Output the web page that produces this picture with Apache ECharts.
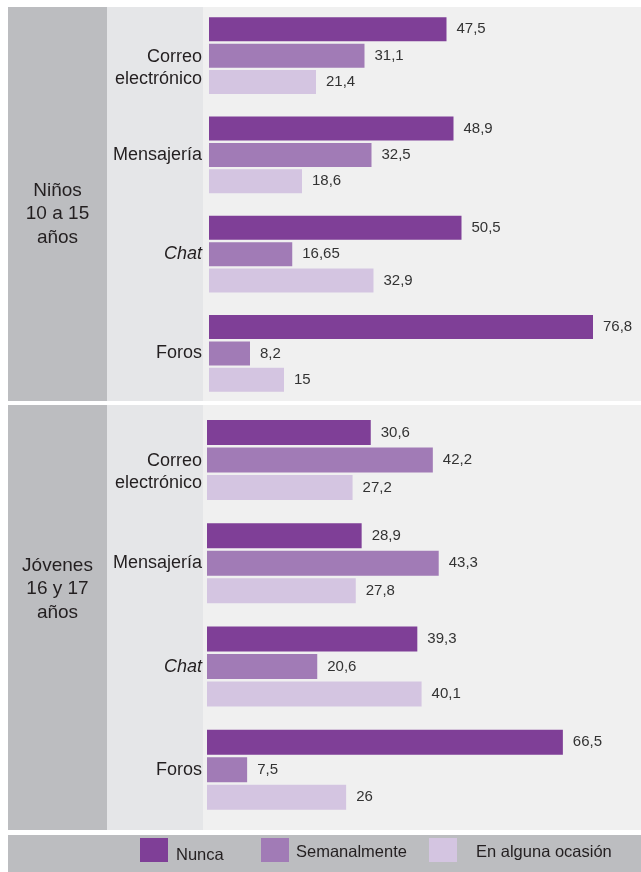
<!DOCTYPE html>
<html>
<head>
<meta charset="utf-8">
<script src="https://cdn.jsdelivr.net/npm/echarts@6/dist/echarts.min.js"></script>
<style>
  html, body { margin: 0; padding: 0; background: #ffffff; }
  #chart { width: 641px; height: 872px; }
</style>
</head>
<body>
<div id="chart"></div>
<script>
// Uso de servicios de comunicación por grupo de edad (%)
const categories = ['Correo\nelectrónico', 'Mensajería', 'Chat', 'Foros'];
const seriesNames = ['Nunca', 'Semanalmente', 'En alguna ocasión'];

const ninosNunca = [47.5, 48.9, 50.5, 76.8];
const ninosSemanal = [31.1, 32.5, 16.65, 8.2];
const ninosAlguna = [21.4, 18.6, 32.9, 15];

const jovenesNunca = [30.6, 28.9, 39.3, 66.5];
const jovenesSemanal = [42.2, 43.3, 20.6, 7.5];
const jovenesAlguna = [27.2, 27.8, 40.1, 26];

const groupLabels = ['Niños\n10 a 15\naños', 'Jóvenes\n16 y 17\naños'];

const colors = ['#7f3f97', '#a17bb6', '#d4c5e1'];
const FONT = '"Liberation Sans", Arial, Helvetica, sans-serif';
const TEXT_DARK = '#231f20';

const chart = echarts.init(document.getElementById('chart'), null, { renderer: 'canvas' });

function fmt(v) { return String(v).replace('.', ','); }

function categoryData() {
  return categories.map(function (c) {
    if (c.indexOf('\n') >= 0) {
      return { value: c, textStyle: { padding: [24, 0, 0, 0] } };
    }
    return c;
  });
}

function yAxisFor(gridIndex, margin) {
  return {
    type: 'category',
    gridIndex: gridIndex,
    inverse: true,
    data: categoryData(),
    axisLine: { show: false },
    axisTick: { show: false },
    splitLine: { show: false },
    axisLabel: {
      margin: margin,
      fontSize: 18,
      lineHeight: 22,
      color: TEXT_DARK,
      fontFamily: FONT,
      formatter: function (v) { return v === 'Chat' ? '{i|Chat}' : v; },
      rich: {
        i: { fontStyle: 'italic', fontSize: 18, color: TEXT_DARK, fontFamily: FONT }
      }
    }
  };
}

function xAxisFor(gridIndex, max) {
  return {
    type: 'value',
    gridIndex: gridIndex,
    min: 0,
    max: max,
    show: false,
    splitLine: { show: false }
  };
}

function barSeries(name, data, idx, axisIndex, width) {
  return {
    name: name,
    type: 'bar',
    xAxisIndex: axisIndex,
    yAxisIndex: axisIndex,
    data: data,
    barWidth: width,
    barGap: '10%',
    itemStyle: { color: colors[idx] },
    label: {
      show: true,
      position: 'right',
      distance: 10,
      fontSize: 15,
      color: '#333333',
      fontFamily: FONT,
      formatter: function (p) { return fmt(p.value); }
    },
    silent: true
  };
}

// Una leyenda por serie para fijar la posición de cada elemento
function legendFor(name, left, padLeft, lineHeight) {
  return {
    data: [name],
    left: left,
    top: 838,
    padding: 0,
    itemWidth: 28,
    itemHeight: 24,
    icon: 'rect',
    selectedMode: false,
    formatter: function (n) { return '{t|' + n + '}'; },
    textStyle: {
      fontSize: 16.5, color: TEXT_DARK, fontFamily: FONT,
      rich: {
        t: {
          fontSize: 16.5, color: TEXT_DARK, fontFamily: FONT,
          lineHeight: lineHeight, verticalAlign: 'bottom',
          padding: [0, 0, 0, padLeft]
        }
      }
    }
  };
}

function rect(x, y, w, h, fill) {
  return { type: 'rect', silent: true, z: -100, shape: { x: x, y: y, width: w, height: h }, style: { fill: fill } };
}

function groupText(text, y) {
  return {
    type: 'text', silent: true, z: 10,
    style: {
      text: text, x: 57.5, y: y,
      fill: TEXT_DARK, fontSize: 19, fontFamily: FONT,
      lineHeight: 23.5, align: 'center', verticalAlign: 'middle'
    }
  };
}

const option = {
  backgroundColor: '#ffffff',
  animation: false,
  textStyle: { fontFamily: FONT },
  grid: [
    { left: 209, right: 0, top: 6, height: 397, containLabel: false },
    { left: 207, right: 0, top: 408.4, height: 413, containLabel: false }
  ],
  xAxis: [xAxisFor(0, 86.4), xAxisFor(1, 81.1)],
  yAxis: [yAxisFor(0, 7), yAxisFor(1, 5)],
  legend: [
    legendFor('Nunca', 140, 3, 28.5),
    legendFor('Semanalmente', 261, 2, 22.5),
    legendFor('En alguna ocasión', 429, 14, 22.5)
  ],
  graphic: [
    // panel superior
    rect(8, 7, 99, 394, '#bcbdc0'),
    rect(107, 7, 96, 394, '#e5e6e8'),
    rect(203, 7, 438, 394, '#f0f0f0'),
    // panel inferior
    rect(8, 405, 99, 425, '#bcbdc0'),
    rect(107, 405, 96, 425, '#e5e6e8'),
    rect(203, 405, 438, 425, '#f0f0f0'),
    // banda de leyenda
    rect(8, 835, 633, 37, '#bcbdc0'),
    groupText(groupLabels[0], 214),
    groupText(groupLabels[1], 589)
  ],
  series: [
    barSeries(seriesNames[0], ninosNunca, 0, 0, 24),
    barSeries(seriesNames[1], ninosSemanal, 1, 0, 24),
    barSeries(seriesNames[2], ninosAlguna, 2, 0, 24),
    barSeries(seriesNames[0], jovenesNunca, 0, 1, 25),
    barSeries(seriesNames[1], jovenesSemanal, 1, 1, 25),
    barSeries(seriesNames[2], jovenesAlguna, 2, 1, 25)
  ]
};

chart.setOption(option);
</script>
</body>
</html>
